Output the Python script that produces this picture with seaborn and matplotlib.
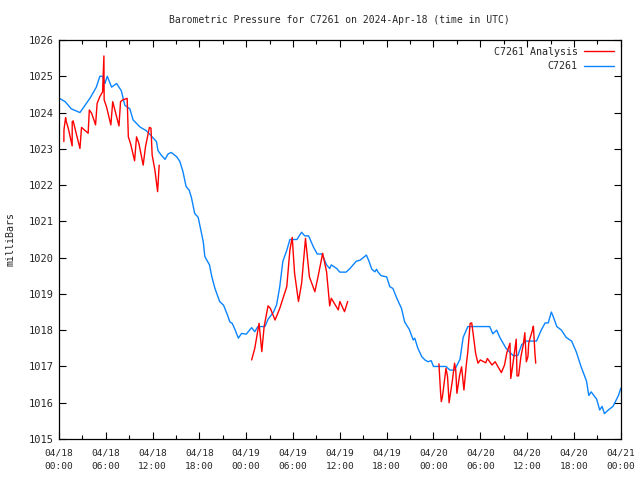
#!/usr/bin/env python3
"""Barometric pressure plot for station C7261"""
import seaborn as sns
import numpy as np
from pandas import DataFrame
from matplotlib import pyplot as plt
from matplotlib.ticker import MultipleLocator
from matplotlib.lines import Line2D

# hours since 2024-04-18 00:00 UTC, pressure in mb
obs_hours = [0.0, 0.8, 1.6, 2.7, 4.0, 4.8, 5.25, 5.6, 5.9, 6.2, 6.75, 7.4, 8.0,
             8.45, 9.1, 9.5, 10.4, 11.2, 11.65, 12.5, 12.7, 13.1, 13.6, 14.0,
             14.4, 15.1, 15.5, 15.9, 16.3, 16.7, 17.0, 17.4, 17.85, 18.1, 18.5,
             18.7, 19.3, 19.6, 20.0, 20.6, 21.1, 21.6, 21.9, 22.2, 22.5, 23.0,
             23.4, 24.0, 24.7, 25.1, 25.5, 26.4, 26.8, 27.5, 27.9, 28.3, 28.7,
             29.2, 29.6, 30.5, 31.1, 31.5, 32.0, 32.6, 33.1, 33.7, 34.3, 34.7,
             34.9, 35.6, 36.0, 36.8, 37.3, 38.1, 38.6, 39.4, 39.7, 40.1, 40.5,
             40.7, 40.9, 41.3, 42.0, 42.4, 42.8, 43.3, 43.9, 44.3, 44.9, 45.4,
             45.6, 46.0, 46.5, 46.9, 47.3, 47.7, 48.0, 49.6, 50.1, 50.7, 51.4,
             51.8, 52.4, 55.2, 55.6, 56.1, 56.5, 57.3, 58.2, 58.8, 59.3, 59.9,
             60.6, 61.2, 61.8, 62.3, 62.7, 63.1, 63.3, 63.8, 64.4, 65.0, 65.7,
             66.3, 66.9, 67.6, 67.9, 68.2, 68.9, 69.3, 69.6, 69.9, 70.4, 71.0,
             71.7, 72.0]
obs_mb = [1024.4, 1024.3, 1024.1, 1024.0, 1024.4, 1024.7, 1025.0, 1025.0,
          1024.8, 1025.0, 1024.7, 1024.8, 1024.6, 1024.2, 1024.1, 1023.8,
          1023.6, 1023.5, 1023.4, 1023.2, 1022.95, 1022.83, 1022.71, 1022.86,
          1022.9, 1022.78, 1022.65, 1022.37, 1021.96, 1021.86, 1021.64,
          1021.22, 1021.11, 1020.85, 1020.44, 1020.03, 1019.8, 1019.47,
          1019.15, 1018.79, 1018.69, 1018.42, 1018.23, 1018.19, 1018.05,
          1017.78, 1017.91, 1017.89, 1018.07, 1017.96, 1018.1, 1018.1, 1018.3,
          1018.5, 1018.7, 1019.2, 1019.9, 1020.2, 1020.5, 1020.5, 1020.7,
          1020.6, 1020.6, 1020.3, 1020.1, 1020.1, 1019.8, 1019.7, 1019.8,
          1019.7, 1019.6, 1019.6, 1019.7, 1019.9, 1019.93, 1020.07, 1019.92,
          1019.68, 1019.61, 1019.68, 1019.6, 1019.5, 1019.47, 1019.2, 1019.15,
          1018.88, 1018.6, 1018.23, 1018.02, 1017.73, 1017.78, 1017.5,
          1017.27, 1017.18, 1017.13, 1017.16, 1017.0, 1017.0, 1016.9, 1016.9,
          1017.2, 1017.8, 1018.1, 1018.1, 1017.9, 1018.0, 1017.8, 1017.5,
          1017.3, 1017.3, 1017.6, 1017.7, 1017.7, 1017.7, 1018.0, 1018.2,
          1018.2, 1018.5, 1018.4, 1018.1, 1018.0, 1017.8, 1017.7, 1017.4,
          1017.0, 1016.6, 1016.2, 1016.3, 1016.1, 1015.8, 1015.9, 1015.7,
          1015.8, 1015.9, 1016.2, 1016.4]

# analysis series, three separate runs
ana1_hours = [0.64, 0.65, 0.86, 0.95, 1.2, 1.7, 1.71, 1.83, 2.27, 2.7, 2.9,
              3.75, 3.9, 4.2, 4.7, 4.9, 5.25, 5.6, 5.77, 5.8, 6.1, 6.66, 6.9,
              7.7, 7.9, 8.2, 8.75, 8.9, 9.2, 9.7, 9.95, 10.25, 10.8, 11.1,
              11.6, 11.8, 11.95, 12.3, 12.65, 12.85]
ana1_mb = [1023.2, 1023.52, 1023.86, 1023.75, 1023.57, 1023.08, 1023.75,
           1023.77, 1023.38, 1023.01, 1023.59, 1023.43, 1024.07, 1023.98,
           1023.66, 1024.25, 1024.44, 1024.57, 1025.56, 1024.35, 1024.16,
           1023.66, 1024.3, 1023.63, 1024.3, 1024.35, 1024.39, 1023.33,
           1023.13, 1022.67, 1023.33, 1023.15, 1022.55, 1023.06, 1023.59,
           1023.57, 1022.83, 1022.42, 1021.82, 1022.55]
ana2_hours = [24.7, 25.1, 25.65, 26.0, 26.3, 26.8, 27.1, 27.7, 28.3, 29.2,
              29.6, 29.9, 30.2, 30.7, 31.1, 31.6, 32.1, 32.8, 33.2, 33.8,
              34.3, 34.7, 34.9, 35.8, 36.0, 36.6, 37.0]
ana2_mb = [1017.18, 1017.5, 1018.19, 1017.41, 1018.1, 1018.67, 1018.6,
           1018.28, 1018.6, 1019.2, 1020.21, 1020.56, 1019.57, 1018.79,
           1019.29, 1020.53, 1019.47, 1019.06, 1019.47, 1020.12, 1019.61,
           1018.67, 1018.88, 1018.56, 1018.79, 1018.51, 1018.79]
ana3_hours = [48.7, 48.9, 49.0, 49.15, 49.6, 49.8, 50.0, 50.2, 50.4, 50.7,
              50.85, 51.0, 51.35, 51.6, 51.9, 52.2, 52.4, 52.7, 52.9, 53.1,
              53.4, 53.7, 54.0, 54.7, 54.9, 55.5, 55.9, 56.7, 57.1, 57.4,
              57.8, 57.9, 58.1, 58.6, 58.7, 58.9, 59.2, 59.5, 59.7, 59.9,
              60.1, 60.2, 60.4, 60.5, 60.7, 60.8, 61.0, 61.1]
ana3_mb = [1017.07, 1016.3, 1016.03, 1016.17, 1016.95, 1016.72, 1016.0,
           1016.3, 1016.58, 1017.09, 1016.9, 1016.26, 1016.76, 1016.99,
           1016.35, 1017.04, 1017.41, 1018.19, 1018.2, 1017.87, 1017.36,
           1017.09, 1017.18, 1017.1, 1017.22, 1017.04, 1017.13, 1016.83,
           1017.04, 1017.38, 1017.64, 1016.67, 1016.95, 1017.75, 1016.74,
           1016.74, 1017.27, 1017.59, 1017.93, 1017.13, 1017.27, 1017.64,
           1017.8, 1017.87, 1018.02, 1018.11, 1017.36, 1017.09]

tick_labels = ["04/18\n00:00", "04/18\n06:00", "04/18\n12:00", "04/18\n18:00",
               "04/19\n00:00", "04/19\n06:00", "04/19\n12:00", "04/19\n18:00",
               "04/20\n00:00", "04/20\n06:00", "04/20\n12:00", "04/20\n18:00",
               "04/21\n00:00"]

RED = "#ff0000"
BLUE = "#0a84ff"

sns.set_style("ticks")
plt.rcParams["font.family"] = ["DejaVu Sans Mono"]

obs = DataFrame({"hours": obs_hours, "mb": obs_mb})
ana = DataFrame({
    "hours": ana1_hours + ana2_hours + ana3_hours,
    "mb": ana1_mb + ana2_mb + ana3_mb,
    "run": [1] * len(ana1_hours) + [2] * len(ana2_hours) + [3] * len(ana3_hours),
})

fig = plt.figure(figsize=(6.4, 4.8), dpi=100)
ax = fig.add_axes([0.092, 0.0854, 0.878, 0.8313])

sns.lineplot(data=obs, x="hours", y="mb", color=BLUE, lw=1, ax=ax,
             estimator=None, sort=False)
sns.lineplot(data=ana, x="hours", y="mb", units="run", estimator=None,
             color=RED, lw=1, ax=ax, sort=False)

ax.set_xlim(0, 72)
ax.set_ylim(1015, 1026)
ax.set_xticks(np.arange(0, 73, 6))
ax.set_xticklabels(tick_labels, fontsize=6.8, linespacing=1.6)
ax.xaxis.set_minor_locator(MultipleLocator(3))
ax.yaxis.set_major_locator(MultipleLocator(1))
ax.tick_params(which="both", direction="in", top=True, right=True,
               color="black", width=0.8)
ax.tick_params(axis="y", labelsize=7.5)
ax.tick_params(which="major", length=5)
ax.tick_params(which="minor", length=3)
ax.tick_params(axis="x", pad=7)
for spine in ax.spines.values():
    spine.set_visible(True)
    spine.set_color("black")
    spine.set_linewidth(0.9)

ax.set_xlabel("")
ax.set_ylabel("milliBars", fontsize=7.2, labelpad=10)
ax.set_title("Barometric Pressure for C7261 on 2024-Apr-18 (time in UTC)",
             fontsize=7, pad=12)

handles = [Line2D([], [], color=RED, lw=1), Line2D([], [], color=BLUE, lw=1)]
ax.legend(handles, ["C7261 Analysis", "C7261"], loc="upper right",
          frameon=False, markerfirst=False, fontsize=7.2, handlelength=3,
          borderaxespad=0.3, labelspacing=0.45, handletextpad=0.6)

plt.savefig("out.png", dpi=100)
